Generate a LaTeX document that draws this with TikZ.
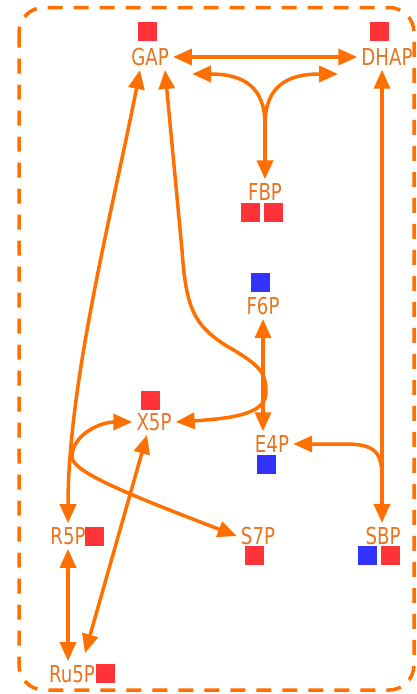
\documentclass[tikz,border=0pt]{standalone}
\usepackage{fontspec}
\newfontfamily\metfont{DejaVu Sans}[FakeStretch=0.78]
\usetikzlibrary{arrows.meta}
\definecolor{rxnorange}{RGB}{255,112,0}
\definecolor{metorange}{RGB}{232,116,32}
\definecolor{tagred}{RGB}{255,51,56}
\definecolor{tagblue}{RGB}{51,51,255}

\tikzset{
  met/.style={text=metorange,font=\metfont\fontsize{23.3}{26}\selectfont,inner sep=4pt},
  tag/.style={fill=#1,minimum size=19pt,inner sep=0pt},
  rxn/.style={draw=rxnorange,line width=3.5pt},
  frame/.style={draw=rxnorange,line width=3.5pt,dash pattern=on 15pt off 11pt,rounded corners=25pt}
}

\begin{document}
\begin{tikzpicture}[x=1pt,y=-1pt,line cap=butt,line join=round,
  >={Triangle[length=19pt,width=16pt]}]
  \useasboundingbox (0,0) rectangle (416,694);
  \draw[frame] (19,7.5) rectangle (414,690);

  % metabolites
  \node[met] (gap)  at (150,57)  {GAP};
  \node[met] (dhap) at (387,57)  {DHAP};
  \node[met] (fbp)  at (265,192) {FBP};
  \node[met] (f6p)  at (263,306) {F6P};
  \node[met] (x5p)  at (154,422) {X5P};
  \node[met] (e4p)  at (272,444) {E4P};
  \node[met] (r5p)  at (68,536)  {R5P};
  \node[met] (s7p)  at (258,536) {S7P};
  \node[met] (sbp)  at (383,536) {SBP};
  \node[met] (ru5p) at (72,674)  {Ru5P};

  % labels
  \node[tag=tagred]  (gapq)   at (147.5,31.5) {};
  \node[tag=tagred]  (dhapq)  at (379.5,31.5) {};
  \node[tag=tagred]  (fbpqa)  at (250.5,212.5) {};
  \node[tag=tagred]  (fbpqb)  at (273.5,212.5) {};
  \node[tag=tagblue] (f6pq)   at (260.5,282.5) {};
  \node[tag=tagred]  (x5pq)   at (150.5,400) {};
  \node[tag=tagblue] (e4pq)   at (266.5,464) {};
  \node[tag=tagred]  (r5pq)   at (94.5,536.5) {};
  \node[tag=tagred]  (s7pq)   at (254.5,555) {};
  \node[tag=tagblue] (sbpqa)  at (367.5,555) {};
  \node[tag=tagred]  (sbpqb)  at (390.5,555) {};
  \node[tag=tagred]  (ru5pq)  at (105.5,673.5) {};

  % branch points
  \coordinate (fork) at (265,125);
  \coordinate (forkl) at (192,74);
  \coordinate (forkr) at (338,74);
  \coordinate (sbpj) at (382,478);

  \draw[rxn,<->] (gap.east) -- (dhap.west);
  \draw[rxn,->] (fork) -- (fbp.north);
  \draw[rxn,->] (fork) .. controls (265,88) and (245,74) .. (forkl);
  \draw[rxn,->] (fork) .. controls (265,88) and (285,74) .. (forkr);

  \draw[rxn,<->] ([xshift=-10pt]gap.south)
    .. controls (115,200) and (68,380) .. (r5p.north);
  \draw[rxn,<->] ([xshift=15pt]gap.south) -- (182,250)
    .. controls (186,310) and (195,325) .. (225,345)
    .. controls (260,365) and (266,372) .. (266,392)
    .. controls (266,412) and (240,418) .. (x5p.east);
  \draw[rxn,<->] (f6p.south) -- (f6p.south |- e4p.north);

  \draw[rxn,<->] ([xshift=-5pt]dhap.south) -- ([xshift=-1pt]sbp.north);
  \draw[rxn,->] (sbpj) .. controls (382,452) and (375,444) .. (345,444) -- (e4p.east);

  \draw[rxn,<->] (x5p.west) .. controls (100,422) and (72,435) .. (72,457)
    .. controls (72,472) and (130,495) .. (s7p.west);
  \draw[rxn,<->] ([xshift=-7pt]x5p.south) -- ([xshift=13pt,yshift=8pt]ru5p.north);
  \draw[rxn,<->] (r5p.south) -- (r5p.south |- ru5p.north);
\end{tikzpicture}
\end{document}
